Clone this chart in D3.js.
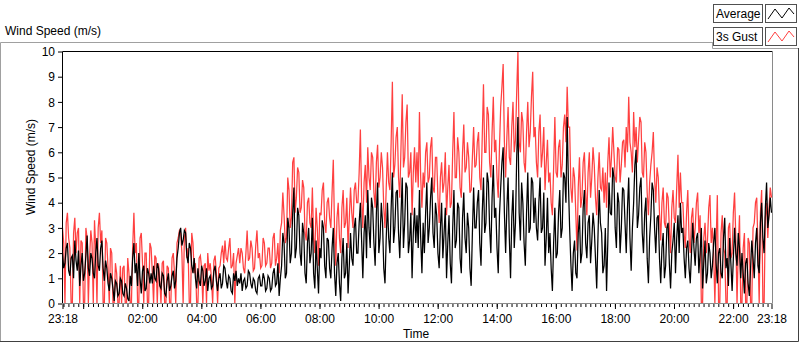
<!DOCTYPE html>
<html>
<head>
<meta charset="utf-8">
<script src="https://cdn.jsdelivr.net/npm/d3@7"></script>
<style>
  body { margin: 0; background: #fff; }
  svg text { font-family: "Liberation Sans", Arial, sans-serif; font-size: 12px; fill: #000; }
</style>
</head>
<body>
<svg id="chart" width="800" height="342"></svg>
<script>
// one sample every 150 s, 23:18 -> 23:18 next day (24 per hour row)
const startTime = new Date(2021, 0, 1, 23, 18);
const stepSeconds = 150;

const average = [
  2.0,1.4, 1.6,2.2, 2.4,1.3, 1.1,1.8, 1.9,1.0, 2.5,1.7, 1.3,2.1, 0.7,1.5, 2.0,0.9, 1.2,1.9, 2.7,1.4, 1.1,2.0,
  1.8,1.2, 1.0,2.0, 2.6,1.5, 1.3,2.2, 2.5,1.4, 0.9,1.7, 1.4,0.8, 0.5,1.2, 1.0,0.6, 0.1,0.9, 0.8,0.3, 0.4,1.0,
  0.9,0.4, 0.3,0.8, 0.6,0.2, 0.1,1.1, 0.7,1.8, 2.4,1.2, 1.6,0.7, 2.0,1.0, 0.4,1.3, 1.5,0.5, 0.6,1.4, 1.2,0.8,
  1.2,0.8, 1.5,1.0, 0.9,1.6, 1.4,0.7, 0.6,1.2, 1.1,0.4, 0.3,0.9, 1.2,0.5, 0.7,1.1, 1.3,0.6, 0.9,1.8, 2.2,2.8,
  3.0,2.3, 2.5,2.9, 2.8,1.9, 1.6,2.4, 2.2,1.5, 1.2,1.8, 1.0,0.6, 1.4,0.9, 0.7,1.5, 1.3,0.7, 0.9,1.4, 0.5,1.0,
  1.1,0.6, 0.7,1.3, 1.5,0.9, 0.5,1.0, 1.2,0.6, 0.8,1.5, 1.4,0.9, 0.6,1.1, 1.0,0.5, 0.4,1.2, 0.9,1.3, 0.7,1.0,
  0.8,1.2, 0.5,0.9, 1.0,0.6, 0.7,1.3, 1.2,0.8, 0.6,1.0, 0.9,0.5, 0.4,1.0, 1.1,0.7, 0.7,1.2, 1.0,0.5, 0.6,1.1,
  1.0,0.5, 0.6,1.2, 1.4,0.7, 0.8,1.6, 0.3,1.0, 1.5,2.8, 2.4,1.0, 1.2,3.4, 3.0,1.6, 2.0,3.6, 4.6,1.8, 2.2,3.8,
  3.5,2.0, 1.5,3.2, 2.8,1.2, 0.8,2.4, 3.0,1.6, 2.0,3.4, 1.2,0.6, 2.5,1.4, 0.4,2.2, 1.8,3.3, 3.0,1.5, 1.0,2.6,
  2.5,1.4, 1.0,2.2, 3.0,1.2, 0.3,1.6, 2.0,0.8, 0.1,1.8, 2.6,1.0, 1.2,2.4, 0.4,1.5, 2.8,1.8, 1.5,3.0, 3.4,2.0,
  2.0,3.2, 4.0,2.5, 1.0,2.8, 3.5,1.8, 4.5,3.0, 2.2,4.2, 3.8,2.4, 1.5,3.6, 4.8,2.0, 2.6,4.0, 3.2,1.4, 0.8,2.6,
  4.0,2.6, 2.0,3.8, 5.2,2.4, 3.0,4.4, 4.5,2.8, 1.8,3.5, 5.0,2.2, 3.2,4.8, 4.6,2.0, 2.5,3.6, 1.0,2.8, 3.8,2.4,
  3.5,2.2, 4.5,2.6, 1.2,3.2, 2.0,3.6, 4.8,2.4, 3.0,4.2, 5.0,2.8, 2.2,4.0, 3.5,2.0, 1.4,3.0, 4.0,1.8, 2.8,3.8,
  1.0,2.4, 3.5,1.6, 0.8,3.0, 4.5,2.2, 2.5,4.0, 3.8,1.8, 1.2,3.4, 4.4,2.6, 2.0,3.6, 3.0,1.4, 0.7,2.8, 4.6,3.0,
  3.0,4.0, 4.5,2.4, 1.5,3.6, 5.0,2.8, 3.2,5.2, 4.8,3.0, 2.0,4.2, 5.5,3.4, 3.8,2.2, 1.2,3.5, 4.6,5.6, 6.2,3.6,
  2.0,3.8, 5.0,2.6, 1.0,3.4, 4.5,2.2, 3.2,5.8, 7.4,3.6, 2.5,4.8, 4.0,2.4, 1.5,3.6, 5.2,2.8, 3.0,5.0, 4.8,3.2,
  4.2,3.0, 2.5,4.0, 5.0,2.8, 3.0,4.4, 1.5,2.6, 4.2,2.0, 2.8,1.4, 0.5,2.4, 3.8,1.8, 2.0,3.6, 4.5,2.6, 3.0,5.2,
  5.0,4.0, 7.4,4.8, 3.0,1.6, 0.5,2.0, 2.5,1.2, 1.0,2.8, 3.5,1.6, 2.0,3.8, 4.5,2.4, 1.8,3.2, 3.5,1.6, 2.5,3.6,
  3.0,1.8, 0.6,2.6, 4.5,3.2, 2.8,1.2, 1.5,3.0, 0.5,2.4, 4.8,3.6, 3.5,5.4, 5.0,3.0, 2.2,4.4, 4.0,2.0, 3.0,4.6,
  4.5,3.2, 2.0,3.8, 5.0,2.6, 1.3,3.0, 4.0,5.5, 6.1,3.0, 3.5,4.6, 5.0,2.8, 2.0,3.6, 4.2,1.8, 0.8,2.6, 3.5,4.8,
  4.5,3.0, 2.0,3.4, 3.5,1.8, 0.8,2.2, 2.8,1.0, 1.5,3.0, 3.2,1.6, 0.6,2.0, 2.5,3.2, 1.2,2.6, 3.5,2.0, 4.0,2.8,
  3.0,1.8, 1.0,2.2, 2.5,1.4, 0.8,2.0, 3.2,2.2, 1.5,2.6, 2.8,1.2, 2.0,3.0, 0.6,1.6, 2.5,0.8, 1.2,2.4, 2.0,1.0,
  1.5,2.4, 3.0,1.6, 0.8,2.0, 2.2,1.2, 1.0,2.6, 3.4,1.4, 1.8,0.7, 2.6,1.6, 0.5,1.8, 3.0,2.0, 1.5,2.8, 2.2,1.0,
  2.0,1.2, 0.4,1.6, 1.8,0.8, 0.3,1.4, 2.5,1.8, 1.0,2.4, 3.0,1.5, 1.2,3.2, 4.0,2.6, 2.0,3.8, 4.8,3.0, 3.5,4.2,
  3.6
];

const gust = [
  3.0,2.4, 0.0,3.2, 3.6,2.6, 2.2,0.0, 0.0,2.8, 3.4,2.0, 2.8,3.0, 0.0,2.5, 2.4,0.0, 0.0,3.0, 2.6,0.0, 1.8,2.9,
  2.4,0.0, 3.3,2.2, 0.0,3.0, 3.6,2.4, 2.9,0.0, 0.0,2.6, 2.4,1.4, 0.0,2.2, 2.0,0.0, 0.0,1.6, 1.2,0.0, 0.0,1.5,
  0.0,1.4, 1.5,0.0, 0.0,1.8, 1.2,0.0, 0.0,2.2, 3.6,2.0, 2.4,0.0, 0.0,2.6, 2.8,1.6, 0.0,2.0, 2.0,0.0, 0.0,2.4,
  2.2,1.2, 0.0,1.9, 1.8,0.0, 1.6,1.0, 0.0,1.6, 1.7,0.0, 0.0,1.5, 1.4,0.0, 0.0,1.8, 2.0,1.2, 0.0,2.4, 2.6,2.9,
  2.8,2.0, 0.0,2.6, 3.0,1.8, 2.2,0.0, 0.0,2.8, 2.4,1.2, 1.6,0.0, 0.0,1.8, 1.9,1.4, 0.0,1.5, 1.6,0.0, 2.0,1.3,
  1.6,1.0, 0.0,1.7, 1.9,1.2, 0.0,1.4, 1.5,2.0, 2.3,1.6, 2.5,1.8, 1.7,2.2, 2.6,1.4, 1.5,2.0, 0.0,1.6, 1.9,2.2,
  1.6,2.2, 2.0,1.4, 1.2,2.0, 2.9,1.7, 1.8,2.5, 2.2,1.3, 1.4,2.3, 2.9,1.8, 2.0,1.4, 1.5,2.6, 2.4,1.5, 1.6,2.2,
  2.2,1.4, 1.6,2.6, 2.8,1.5, 1.8,2.4, 1.2,2.9, 3.2,4.4, 3.5,2.4, 2.6,5.0, 4.5,3.0, 3.4,5.6, 5.8,3.6, 4.2,5.4,
  5.2,3.6, 3.8,4.9, 4.6,2.8, 2.5,4.0, 4.2,3.2, 3.0,4.6, 2.6,2.0, 3.8,3.0, 1.5,3.6, 3.5,4.5, 4.8,3.2, 2.8,4.0,
  4.2,3.4, 3.0,4.4, 5.7,3.0, 1.5,3.4, 4.0,2.6, 2.0,3.8, 4.5,3.0, 3.2,4.2, 2.2,3.4, 4.6,3.6, 3.0,4.5, 4.8,4.0,
  4.0,5.2, 6.9,4.2, 3.0,4.8, 5.5,4.0, 6.2,5.0, 4.5,6.0, 5.8,4.4, 3.8,5.6, 6.3,4.6, 5.0,6.0, 5.4,3.8, 3.0,4.6,
  6.0,4.8, 4.5,6.4, 8.8,5.0, 5.5,6.6, 7.0,5.0, 4.2,6.2, 8.3,5.4, 5.8,7.2, 7.9,5.0, 5.2,6.0, 3.5,5.2, 6.2,4.8,
  6.0,4.6, 7.6,5.0, 3.8,5.2, 4.6,6.0, 6.4,4.8, 5.0,6.2, 6.6,4.6, 4.4,5.8, 5.8,4.2, 3.2,5.0, 5.6,4.4, 4.8,6.0,
  3.5,4.6, 5.5,3.8, 4.0,6.0, 7.6,5.0, 5.0,6.6, 6.0,4.6, 4.2,6.0, 7.1,5.2, 5.4,6.4, 5.8,4.4, 4.5,5.8, 7.0,5.4,
  5.5,6.4, 6.8,5.0, 4.5,6.6, 8.7,6.0, 6.0,7.8, 7.5,5.6, 5.0,6.8, 8.2,6.0, 6.5,5.0, 4.2,6.2, 7.8,8.6, 9.5,6.4,
  5.0,6.6, 7.8,5.8, 5.5,7.0, 8.0,6.0, 6.5,8.4, 10.0,6.4, 6.0,7.6, 7.2,5.6, 5.2,6.8, 8.0,6.2, 6.8,8.2, 9.2,6.6,
  7.0,5.6, 5.0,6.8, 7.5,5.4, 6.0,7.0, 4.5,5.6, 6.5,4.8, 5.2,4.0, 3.5,5.4, 7.4,5.2, 5.0,6.2, 6.5,5.0, 5.5,7.0,
  7.5,6.4, 8.6,7.0, 7.0,4.6, 4.0,5.4, 5.0,3.6, 2.1,4.6, 5.8,3.8, 4.2,5.6, 6.0,4.4, 3.5,5.2, 6.0,4.2, 5.0,6.2,
  5.5,4.2, 3.5,5.0, 6.0,4.6, 4.5,5.4, 4.0,5.2, 3.8,5.6, 6.6,5.0, 5.8,7.0, 6.0,5.0, 4.8,6.2, 6.1,4.8, 5.5,6.4,
  6.5,5.4, 7.0,6.0, 8.2,6.4, 6.0,5.2, 7.6,6.2, 7.0,5.6, 6.5,7.4, 7.2,5.2, 5.0,6.4, 6.0,4.4, 3.5,4.8, 5.5,6.0,
  6.8,5.0, 4.0,5.4, 5.0,3.6, 2.5,4.0, 4.6,3.2, 3.0,4.4, 4.2,3.0, 2.0,3.8, 4.5,3.4, 3.2,4.6, 5.9,3.8, 5.2,4.0,
  4.0,2.8, 2.2,3.6, 4.5,2.6, 2.0,3.4, 3.8,2.4, 3.0,4.0, 4.4,2.8, 3.5,0.0, 0.0,2.6, 3.2,2.0, 2.5,3.8, 4.3,2.4,
  3.0,2.0, 0.0,2.4, 4.3,0.0, 0.0,2.8, 3.5,2.2, 2.0,0.0, 0.0,3.0, 3.2,1.8, 2.0,3.6, 4.4,2.6, 0.0,2.2, 3.5,0.0,
  0.0,2.2, 2.8,0.0, 0.0,2.6, 2.4,0.0, 0.0,3.0, 3.2,4.0, 4.2,2.2, 0.0,3.6, 4.5,0.0, 0.0,3.4, 4.0,2.6, 3.8,4.6,
  4.2
];

const yTicks = [0, 1, 2, 3, 4, 5, 6, 7, 8, 9, 10];
const xTickLabels = ["02:00", "04:00", "06:00", "08:00", "10:00", "12:00",
                     "14:00", "16:00", "18:00", "20:00", "22:00"];
const legendNames = ["Average", "3s Gust"];
const seriesColors = ["#000000", "#ff4040"];

const endTime = d3.timeMinute.offset(startTime, 24 * 60);
const timeOf = i => d3.timeSecond.offset(startTime, i * stepSeconds);

const svg = d3.select("#chart");

const x = d3.scaleTime().domain([startTime, endTime]).range([62.5, 771.5]);
const y = d3.scaleLinear().domain([0, 10]).range([303.5, 51.5]);

// outer frame of the graph
svg.append("path")
  .attr("d", "M0.5,341 V42.5 H712.5")
  .attr("fill", "none").attr("stroke", "#a0a0a0");
svg.append("path")
  .attr("d", "M0,341.5 H798.5 V48")
  .attr("fill", "none").attr("stroke", "#404040");
svg.append("path")
  .attr("d", "M712.5,42 V48.5 H798")
  .attr("fill", "none").attr("stroke", "#a0a0a0");

svg.append("text")
  .attr("x", 5).attr("y", 35)
  .text("Wind Speed (m/s)");

svg.append("defs").append("clipPath").attr("id", "plotClip")
  .append("rect").attr("x", 62).attr("y", 51).attr("width", 711).attr("height", 253);

// data
const line = d3.line()
  .x((d, i) => x(timeOf(i)))
  .y(d => y(d));

const plot = svg.append("g").attr("clip-path", "url(#plotClip)");
plot.append("path")
  .datum(gust)
  .attr("d", line)
  .attr("fill", "none")
  .attr("stroke", seriesColors[1])
  .attr("stroke-width", 1.25);
plot.append("path")
  .datum(average)
  .attr("d", line)
  .attr("fill", "none")
  .attr("stroke", seriesColors[0])
  .attr("stroke-width", 1.25);

// plot border
svg.append("path").attr("d", "M62.5,304 V51.5 H773")
  .attr("fill", "none").attr("stroke", "#000");
svg.append("path").attr("d", "M62,303.5 H772.5 V51")
  .attr("fill", "none").attr("stroke", "#8a8a8a");

// y axis
const yAxis = svg.append("g")
  .attr("transform", "translate(62,0)")
  .call(d3.axisLeft(y).tickValues(yTicks).tickSize(4).tickPadding(3).tickFormat(d3.format("d")));
yAxis.select(".domain").remove();
yAxis.selectAll("text").style("font-size", "12px").attr("dy", "0.35em");

svg.append("text")
  .attr("transform", "translate(35,167) rotate(-90)")
  .attr("text-anchor", "middle")
  .text("Wind Speed (m/s)");

// x axis: minor ticks every 10 min, major every 2 h plus both ends
const minorTicks = d3.timeMinute.every(10).range(startTime, endTime);
svg.append("g")
  .attr("transform", "translate(0,304)")
  .call(d3.axisBottom(x).tickValues(minorTicks).tickSize(3).tickFormat(""))
  .call(g => g.select(".domain").remove());

const majorTicks = [startTime].concat(d3.timeHour.every(2).range(startTime, endTime), [endTime]);
const labelFormat = d3.timeFormat("%H:%M");
const xAxis = svg.append("g")
  .attr("transform", "translate(0,304)")
  .call(d3.axisBottom(x).tickValues(majorTicks).tickSize(5).tickPadding(5)
    .tickFormat(d => {
      const s = labelFormat(d);
      return (d === startTime || d === endTime || xTickLabels.includes(s)) ? s : "";
    }));
xAxis.select(".domain").remove();
xAxis.selectAll("text").style("font-size", "12px");

svg.append("text")
  .attr("x", 416).attr("y", 338)
  .attr("text-anchor", "middle")
  .text("Time");

// legend
const legend = svg.append("g");
legendNames.forEach((name, i) => {
  const top = 4 + i * 23;
  legend.append("rect")
    .attr("x", 713.5).attr("y", top + 0.5).attr("width", 49).attr("height", 18)
    .attr("fill", "#fff").attr("stroke", "#505050");
  legend.append("text")
    .attr("x", 716).attr("y", top + 14)
    .text(name);
  legend.append("rect")
    .attr("x", 765.5).attr("y", top + 0.5).attr("width", 31).attr("height", 18)
    .attr("fill", "#fff").attr("stroke", "#505050");
  legend.append("polyline")
    .attr("points", [[768, top + 15], [775, top + 5], [782, top + 14], [789, top + 4], [794, top + 10]].join(" "))
    .attr("fill", "none")
    .attr("stroke", seriesColors[i]);
});
</script>
</body>
</html>
